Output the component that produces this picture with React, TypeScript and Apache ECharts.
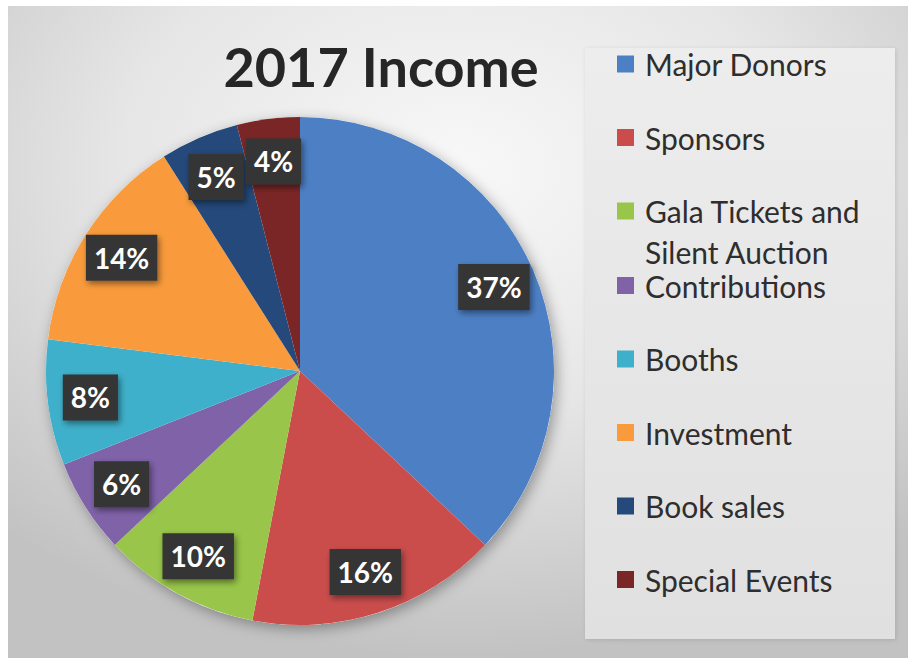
import React, { useEffect, useRef } from "react";
import * as echarts from "echarts";

const categories = [
  "Major Donors",
  "Sponsors",
  "Gala Tickets and\nSilent Auction",
  "Contributions",
  "Booths",
  "Investment",
  "Book sales",
  "Special Events",
];
const values = [37, 16, 10, 6, 8, 14, 5, 4];
const colors = ["#4C7FC4", "#CA4D4C", "#98C54A", "#7F62A8", "#3FB0CB", "#F99B3C", "#24497A", "#7A2626"];
const titleText = "2017 Income";

export default function App() {
  const ref = useRef<HTMLDivElement>(null);
  useEffect(() => {
    document.body.style.margin = "0";
    const chart = echarts.init(ref.current!, null, { renderer: "svg" });
    const data = categories.map((name, i) => ({
      name,
      value: values[i],
      itemStyle: { color: colors[i] },
    }));
    const center = [300, 371];
    const R = 254;
    const legendText = {
      fontFamily: "Lato",
      fontSize: 30,
      lineHeight: 41,
      color: "#2e2e2e",
      padding: [0, 0, 0, 6],
    };
    const legendBase = {
      orient: "vertical",
      left: 617,
      padding: 0,
      itemGap: 32.5,
      itemWidth: 17,
      itemHeight: 17,
      icon: "rect",
      selectedMode: false,
      textStyle: legendText,
    };
    const legendItem = (i: number) => ({ name: categories[i], itemStyle: { color: colors[i] } });
    chart.setOption({
      animation: false,
      backgroundColor: "#ffffff",
      graphic: [
        {
          type: "rect",
          shape: { x: 8, y: 6, width: 900, height: 652 },
          style: {
            fill: {
              type: "radial",
              x: 0.5,
              y: 0.25,
              r: 0.75,
              colorStops: [
                { offset: 0, color: "#f8f8f8" },
                { offset: 0.5, color: "#e6e6e6" },
                { offset: 1, color: "#c2c2c2" },
              ],
            },
          },
          z: -10,
        },
        {
          type: "rect",
          shape: { x: 585, y: 48, width: 310, height: 591 },
          style: {
            fill: {
              type: "linear",
              x: 0,
              y: 0,
              x2: 0,
              y2: 1,
              colorStops: [
                { offset: 0, color: "#ededed" },
                { offset: 1, color: "#e0e0e0" },
              ],
            },
            shadowBlur: 4,
            shadowColor: "rgba(0,0,0,0.12)",
            shadowOffsetX: 1,
            shadowOffsetY: 1,
          },
          z: -9,
        },
      ],
      title: {
        text: titleText,
        left: 381,
        top: 66,
        textAlign: "center",
        textVerticalAlign: "middle",
        padding: 0,
        textStyle: {
          fontFamily: "Lato",
          fontWeight: "bold",
          fontSize: 54,
          color: "#262626",
        },
      },
      legend: [
        { ...legendBase, top: 43.5, data: [legendItem(0), legendItem(1)] },
        {
          ...legendBase,
          top: 149.5,
          formatter: (n: string) => "\n" + n,
          data: [legendItem(2)],
        },
        {
          ...legendBase,
          top: 265,
          data: [legendItem(3), legendItem(4), legendItem(5), legendItem(6), legendItem(7)],
        },
      ],
      series: [
        {
          type: "pie",
          name: "shadow",
          center,
          radius: R,
          silent: true,
          label: { show: false },
          labelLine: { show: false },
          itemStyle: {
            color: "#ffffff",
            shadowBlur: 14,
            shadowColor: "rgba(0,0,0,0.35)",
            shadowOffsetX: 3,
            shadowOffsetY: 4,
          },
          data: [{ name: "__bg", value: 1 }],
          z: 1,
        },
        {
          type: "pie",
          name: "Income",
          center,
          radius: R,
          startAngle: 90,
          clockwise: true,
          silent: true,
          label: { show: false },
          labelLine: { show: false },
          itemStyle: { borderWidth: 0 },
          data,
          z: 2,
        },
        {
          type: "pie",
          name: "labels",
          center,
          radius: [R * 0.64, R],
          startAngle: 90,
          clockwise: true,
          silent: true,
          itemStyle: { color: "rgba(0,0,0,0)", borderWidth: 0 },
          labelLine: { show: false },
          label: {
            show: true,
            position: "inside",
            formatter: "{c}%",
            fontFamily: "Lato",
            fontWeight: "bold",
            fontSize: 28,
            lineHeight: 34,
            color: "#ffffff",
            backgroundColor: "#353535",
            padding: [6, 8],
            shadowBlur: 6,
            shadowColor: "rgba(0,0,0,0.45)",
            shadowOffsetX: 2,
            shadowOffsetY: 3,
          },
          data: categories.map((name, i) => ({ name, value: values[i] })),
          z: 3,
        },
      ],
    });
    return () => chart.dispose();
  }, []);
  return <div ref={ref} style={{ width: 908, height: 658 }} />;
}
